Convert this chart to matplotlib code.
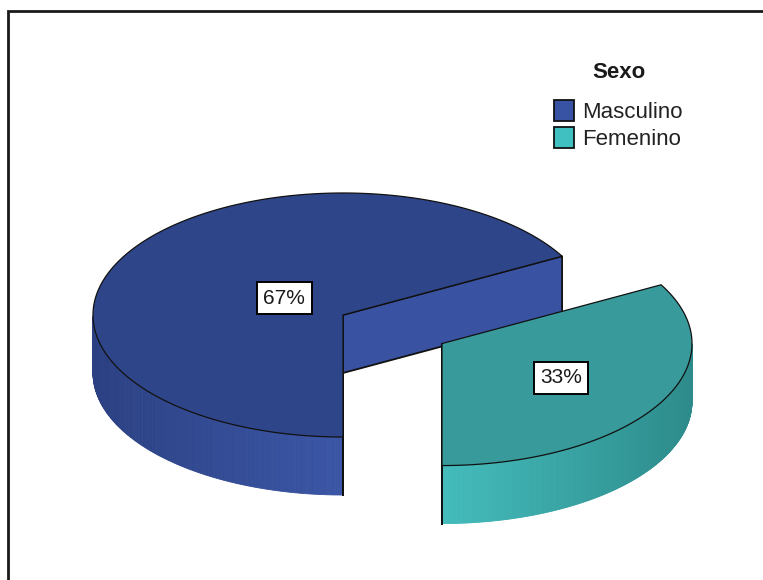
import numpy as np
import matplotlib.pyplot as plt
from matplotlib.patches import Polygon, Rectangle
from matplotlib.colors import to_rgb

plt.rcParams['font.family'] = ['Liberation Sans', 'DejaVu Sans']

# data
labels = ['Masculino', 'Femenino']
values = [67, 33]
explode = [0.0, 0.46]
legend_title = 'Sexo'

# colours
top_colors = ['#2f4589', '#389a9a']
cut_colors = ['#3a52a2', '#3fa9a9']
wall_colors = [('#2b4082', '#3b56a6'), ('#43bcbc', '#2e8b8b')]
legend_colors = ['#3953a4', '#40c0c0']

# pie geometry in pixels
cx, cy = 343, 315
rx, ry = 250, 122
h = 58

fig = plt.figure(figsize=(7.63, 5.80), dpi=100)
ax = fig.add_axes([0, 0, 1, 1])
ax.set_xlim(0, 763)
ax.set_ylim(580, 0)
ax.axis('off')


def pt(a, ox, oy, dz=0):
    return (cx + ox + rx * np.cos(a), cy + oy - ry * np.sin(a) + dz)


fracs = np.array(values) / sum(values)
start = -np.pi / 2
for i, f in enumerate(fracs):
    a0 = start
    a1 = start - f * 2 * np.pi  # clockwise
    start = a1
    mid = (a0 + a1) / 2
    ox = explode[i] * rx * np.cos(mid)
    oy = -explode[i] * ry * np.sin(mid)

    # outer wall, visible where sin < 0
    angs = np.linspace(a0, a1, 400)
    vis = angs[np.sin(angs) < 1e-9]
    if len(vis) > 1:
        vis = np.sort(vis)
        xs = cx + ox + rx * np.cos(vis)
        t = (xs - xs.min()) / max(xs.max() - xs.min(), 1)
        c0, c1 = np.array(to_rgb(wall_colors[i][0])), np.array(to_rgb(wall_colors[i][1]))
        for k in range(len(vis) - 1):
            p = [pt(vis[k], ox, oy), pt(vis[k + 1], ox, oy),
                 pt(vis[k + 1], ox, oy, h), pt(vis[k], ox, oy, h)]
            col = c0 + (c1 - c0) * (t[k] + t[k + 1]) / 2
            ax.add_patch(Polygon(p, closed=True, facecolor=col, edgecolor=col, lw=0.6))

    # radial cut faces facing viewer
    for a, n in [(a0, a0 + np.pi / 2), (a1, a1 - np.pi / 2)]:
        if np.sin(n) < 1e-9:
            c = (cx + ox, cy + oy)
            p = [c, pt(a, ox, oy), pt(a, ox, oy, h), (c[0], c[1] + h)]
            ax.add_patch(Polygon(p, closed=True, facecolor=cut_colors[i],
                                 edgecolor='#111111', lw=1.3, joinstyle='round'))

    # top face
    arc = np.linspace(a0, a1, 300)
    p = [(cx + ox, cy + oy)] + [pt(a, ox, oy) for a in arc]
    ax.add_patch(Polygon(p, closed=True, facecolor=top_colors[i],
                         edgecolor='#111111', lw=0.9))

    # label at sector centroid
    alpha = f * 2 * np.pi
    d = 4 * np.sin(alpha / 2) / (3 * alpha)
    lx = cx + ox + d * rx * np.cos(mid)
    ly = cy + oy - d * ry * np.sin(mid)
    ax.text(lx, ly, f'{values[i]}%', ha='center', va='center', fontsize=15,
            color='#1a1a1a',
            bbox=dict(boxstyle='square,pad=0.3', facecolor='white',
                      edgecolor='black', lw=1.4))

# legend
ax.text(619, 73, legend_title, ha='center', va='center', fontsize=16,
        fontweight='bold', color='#1a1a1a')
for i, lab in enumerate(labels):
    y = 100 + i * 27
    ax.add_patch(Rectangle((554, y), 20, 21, facecolor=legend_colors[i],
                           edgecolor='#111111', lw=1.3))
    ax.text(582, y + 12.5, lab, ha='left', va='center', fontsize=16,
            color='#222222')

# outer frame (cropped)
ax.plot([8, 8, 763], [580, 11, 11], color='#1a1a1a', lw=2, solid_joinstyle='miter')

fig.savefig('out.png', dpi=100, facecolor='white')
